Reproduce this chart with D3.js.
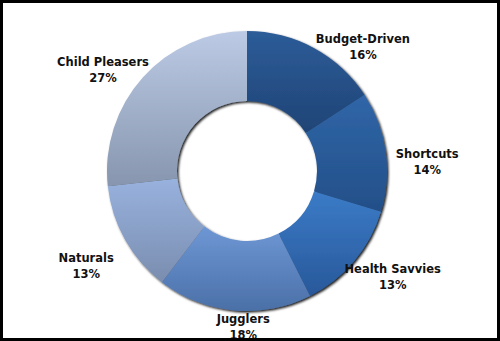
<!DOCTYPE html>
<html>
<head>
<meta charset="utf-8">
<script src="https://cdn.jsdelivr.net/npm/d3@7"></script>
<style>
  body { margin: 0; background: #fff; }
  text { font-family: "DejaVu Sans", sans-serif; font-weight: bold; fill: #111; }
</style>
</head>
<body>
<div id="chart"></div>
<script>
var w = 500,
    h = 341,
    cx = 247,
    cy = 171,
    outerR = 140,
    innerR = 70;

// segments, clockwise from 12 o'clock
var segments = ["Budget-Driven", "Shortcuts", "Health Savvies", "Jugglers", "Naturals", "Child Pleasers"];
var shares = [16, 14, 13, 18, 13, 27];

// top / bottom colour of each slice gradient
var topColors = ["#2d5c98", "#3066a8", "#3b7bc7", "#6d97d4", "#98b2de", "#bccae5"];
var bottomColors = ["#1f4476", "#234f88", "#28589a", "#4b70a8", "#7a8daf", "#8796ae"];

// label nudges away from the mid-angle point
var labelNudge = [[30, 34], [2, 16], [8, -10], [13, -23], [-4, 7], [-10, 19]];

var svg = d3.select("#chart")
    .append("svg")
    .attr("width", w)
    .attr("height", h);

var defs = svg.append("defs");

segments.forEach(function (s, i) {
    var g = defs.append("linearGradient")
        .attr("id", "grad" + i)
        .attr("x1", 0).attr("y1", 0)
        .attr("x2", 0).attr("y2", 1);
    g.append("stop").attr("offset", "0%").attr("stop-color", topColors[i]);
    g.append("stop").attr("offset", "100%").attr("stop-color", bottomColors[i]);
});

var shadow = defs.append("filter")
    .attr("id", "shadow")
    .attr("x", "-10%").attr("y", "-10%")
    .attr("width", "120%").attr("height", "120%");
shadow.append("feDropShadow")
    .attr("dx", 1.5)
    .attr("dy", 1.5)
    .attr("stdDeviation", 0.8)
    .attr("flood-color", "#000")
    .attr("flood-opacity", 0.9);

var pie = d3.pie().sort(null).value(function (d) { return d; });
var arcs = pie(shares);

var arc = d3.arc().innerRadius(innerR).outerRadius(outerR);
var labelArc = d3.arc().innerRadius(180).outerRadius(180);

var donut = svg.append("g")
    .attr("transform", "translate(" + cx + "," + cy + ")")
    .attr("filter", "url(#shadow)");

donut.selectAll("path")
    .data(arcs)
    .enter()
    .append("path")
    .attr("d", arc)
    .style("fill", function (d, i) { return "url(#grad" + i + ")"; });

var labels = svg.append("g")
    .attr("transform", "translate(" + cx + "," + cy + ")");

labels.selectAll("text")
    .data(arcs)
    .enter()
    .append("text")
    .attr("text-anchor", "middle")
    .style("font-size", "11.5px")
    .each(function (d, i) {
        var c = labelArc.centroid(d);
        var x = c[0] + labelNudge[i][0],
            y = c[1] + labelNudge[i][1];
        var t = d3.select(this);
        t.append("tspan").attr("x", x).attr("y", y - 4).text(segments[i]);
        t.append("tspan").attr("x", x).attr("y", y + 12).text(shares[i] + "%");
    });

// frame
svg.append("rect")
    .attr("x", 1.5)
    .attr("y", 1.5)
    .attr("width", w - 3)
    .attr("height", h - 3)
    .style("fill", "none")
    .style("stroke", "#000")
    .style("stroke-width", 3);
</script>
</body>
</html>
